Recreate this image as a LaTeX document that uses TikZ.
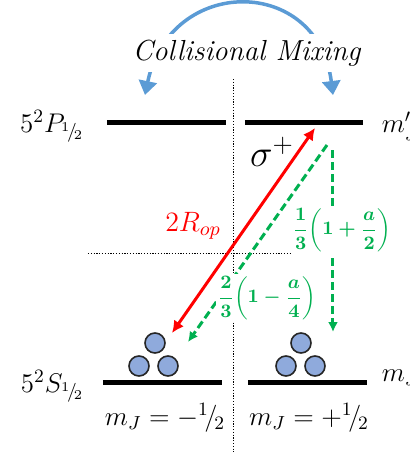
\RequirePackage{fix-cm}
\documentclass[tikz,border=0pt]{standalone}
\usepackage{amsmath}
\usetikzlibrary{arrows.meta}
\definecolor{mixblue}{RGB}{91,155,213}
\definecolor{popgreen}{RGB}{0,176,80}
\definecolor{atomblue}{RGB}{143,170,220}
\newcommand{\slhalf}{{}^{1}\!/_{\!2}}
\tikzset{
  level/.style={line width=2.5pt},
  guide/.style={line width=0.5pt, dash pattern=on 0.6pt off 0.8pt},
  atom/.style={circle, draw=black!85, fill=atomblue, line width=0.8pt, minimum size=10pt, inner sep=0pt},
  pump/.style={red, line width=1.5pt, {Latex[length=6pt,width=6pt]}-{Latex[length=6pt,width=6pt]}},
  decay/.style={popgreen, line width=1.5pt, dash pattern=on 4pt off 2pt, -{Latex[length=5pt,width=5pt]}},
  lbl/.style={font=\fontsize{13.5}{15}\selectfont, inner sep=1pt},
  ratio/.style={popgreen, font=\fontsize{9.5}{11}\selectfont\boldmath, fill=white, inner sep=1pt}
}
\begin{document}
\begin{tikzpicture}[x=0.5pt, y=-0.5pt, >=latex, thick]
\useasboundingbox (0,0) rectangle (409,452);
% Enden der Niveaus
\coordinate (PLa) at (107,122);
\coordinate (PLb) at (226,122);
\coordinate (PRa) at (245,122);
\coordinate (PRb) at (363,122);
\coordinate (SLa) at (103,382);
\coordinate (SLb) at (222,382);
\coordinate (SRa) at (248,382);
\coordinate (SRb) at (367,382);
% Hilfslinien
\coordinate (V1) at (234,79);
\coordinate (V2) at (234,452);
\coordinate (H1) at (88,253);
\coordinate (H2) at (377,253);
\draw[guide] (V1) -- (V2);
\draw[guide] (H1) -- (H2);
% Niveaus
\draw[level] (PLa) -- (PLb);
\draw[level] (PRa) -- (PRb);
\draw[level] (SLa) -- (SLb);
\draw[level] (SRa) -- (SRb);
% Stossmischung
\coordinate (CL) at (145,95);
\coordinate (CR) at (333,95);
\draw[mixblue, line width=1.75pt, {Triangle[length=7pt,width=9pt]}-{Triangle[length=7pt,width=9pt]}]
  (CL) .. controls (170,-25) and (318,-25) .. (CR);
\node[font=\fontsize{14.5}{16}\selectfont, fill=white, inner sep=3pt] (mix) at (247,53) {\textit{Collisional Mixing}};
% Zerfall senkrecht (unter dem Label)
\coordinate (Vtop) at (333,150);
\coordinate (Vbot) at (333,332);
\draw[decay] (Vtop) -- (Vbot);
\node[ratio] (upper) at (342,230) {$\dfrac{1}{3}\!\left(1+\dfrac{a}{2}\right)$};
% Pumpen und Zerfall schraeg
\coordinate (Rtop) at (315,128);
\coordinate (Rbot) at (172,333);
\coordinate (Gtop) at (327,145);
\coordinate (Gbot) at (188,342);
\draw[pump] (Rbot) -- (Rtop);
\draw[decay] (Gtop) -- (Gbot);
\node[ratio] (lower) at (267,298) {$\dfrac{2}{3}\!\left(1-\dfrac{a}{4}\right)$};
% Atome
\node[atom] (aL1) at (155,343) {};
\node[atom] (aL2) at (139,366) {};
\node[atom] (aL3) at (168,366) {};
\node[atom] (aR1) at (301,343) {};
\node[atom] (aR2) at (286,366) {};
\node[atom] (aR3) at (315,366) {};
% Beschriftungen
\node[lbl, anchor=east] (lblP) at (87,126) {$5^2P_{\slhalf}$};
\node[lbl, anchor=east] (lblS) at (87,386) {$5^2S_{\slhalf}$};
\node[lbl, anchor=west] (mJup) at (379,126) {$m'_J$};
\node[lbl, anchor=west] (mJlo) at (379,378) {$m_J$};
\node[lbl] (mJm) at (165,418) {$m_J=-\slhalf$};
\node[lbl] (mJp) at (309,418) {$m_J=+\slhalf$};
\node[font=\fontsize{19}{22}\selectfont] (sigma) at (272,152) {$\sigma^+$};
\node[red, font=\fontsize{14}{16}\selectfont] (rop) at (193,226) {$2R_{op}$};
\end{tikzpicture}
\end{document}
